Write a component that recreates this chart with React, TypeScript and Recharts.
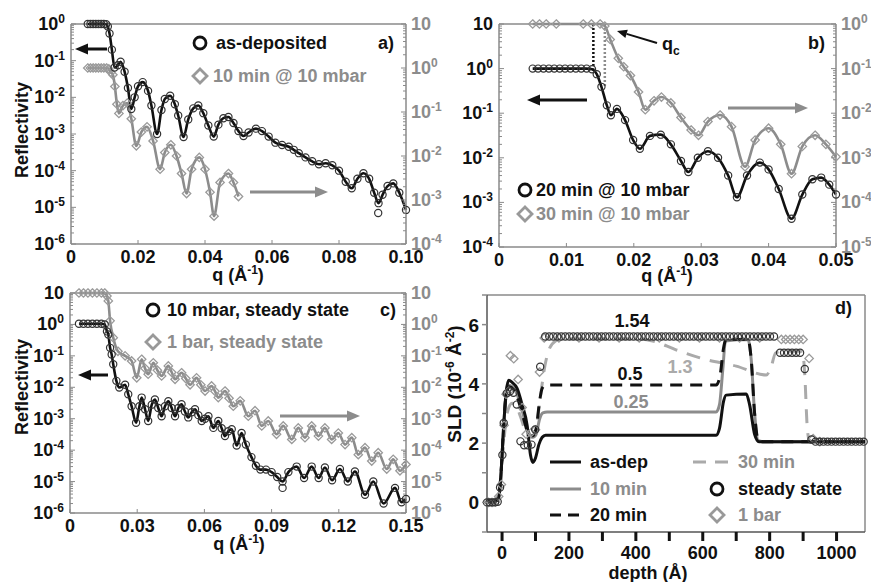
import React from 'react';
import { ComposedChart, Line, XAxis, YAxis, ReferenceLine } from 'recharts';

const FONT = '"Liberation Sans", Arial, Helvetica, sans-serif';
const BLACK = '#111';
const GRAY = '#8c8c8c';
const LIGHT = '#aaaaaa';
const AXIS = '#8a8a8a';

type Pt = [number, number];

// ---- panel a: q (1/A), reflectivity ----
const asDeposited: Pt[] = [
  [0.005, 1], [0.0058, 1], [0.0066, 1], [0.0074, 1], [0.0082, 1], [0.009, 1], [0.0098, 1], [0.0105, 0.98],
  [0.011, 0.85], [0.0115, 0.55], [0.0122, 0.2], [0.013, 0.065], [0.014, 0.075], [0.0148, 0.093], [0.016, 0.05],
  [0.017, 0.018], [0.018, 0.0048], [0.019, 0.01], [0.02, 0.02], [0.0214, 0.026], [0.023, 0.015], [0.024, 0.006],
  [0.0257, 0.001], [0.027, 0.0045], [0.028, 0.009], [0.0296, 0.011], [0.031, 0.0065], [0.032, 0.0032],
  [0.0336, 0.00083], [0.035, 0.0025], [0.0365, 0.005], [0.038, 0.006], [0.0395, 0.0037], [0.041, 0.0017],
  [0.0426, 0.00085], [0.044, 0.0018], [0.0455, 0.0027], [0.047, 0.0029], [0.0485, 0.002], [0.05, 0.0012],
  [0.0515, 0.00088], [0.053, 0.0011], [0.0552, 0.0014], [0.057, 0.0012], [0.059, 0.00085], [0.061, 0.00058],
  [0.063, 0.0005], [0.065, 0.00045], [0.0665, 0.00037], [0.068, 0.0003], [0.07, 0.00023], [0.072, 0.00018],
  [0.074, 0.00015], [0.076, 0.00016], [0.078, 0.00014], [0.08, 0.0001], [0.082, 0.00005], [0.0838, 0.000033],
  [0.0855, 0.00006], [0.0873, 0.000085], [0.089, 0.00006], [0.0905, 0.000025], [0.0918, 0.000013],
  [0.093, 0.000022], [0.0945, 0.000038], [0.0962, 0.000045], [0.098, 0.000025], [0.1, 0.0000085],
];
const asDepositedStray: Pt[] = [[0.0917, 0.000007]];
const tenMin: Pt[] = [
  [0.005, 1], [0.0058, 1], [0.0066, 1], [0.0074, 1], [0.0082, 1], [0.009, 1], [0.0098, 1], [0.0106, 1],
  [0.0113, 0.95], [0.0119, 0.8], [0.0125, 0.7], [0.0131, 0.38], [0.0137, 0.15], [0.0143, 0.093], [0.0155, 0.14],
  [0.0168, 0.16], [0.018, 0.07], [0.0195, 0.017], [0.021, 0.035], [0.0227, 0.046], [0.0245, 0.022],
  [0.0266, 0.005], [0.028, 0.012], [0.0298, 0.018], [0.0315, 0.01], [0.033, 0.004], [0.0345, 0.0014],
  [0.036, 0.005], [0.0383, 0.0093], [0.04, 0.005], [0.0415, 0.0015], [0.0427, 0.00043], [0.0445, 0.0025],
  [0.047, 0.004], [0.0485, 0.0025], [0.05, 0.0012],
];

// ---- panel b ----
const twentyMin: Pt[] = [
  [0.005, 1], [0.0058, 1], [0.0066, 1], [0.0074, 1], [0.0082, 1], [0.009, 1], [0.0098, 1], [0.0106, 1],
  [0.0114, 1], [0.0122, 1], [0.013, 1], [0.0138, 0.97], [0.0145, 0.75], [0.0152, 0.39], [0.016, 0.15],
  [0.0166, 0.09], [0.0175, 0.125], [0.0187, 0.07], [0.0199, 0.025], [0.0209, 0.016], [0.0224, 0.031],
  [0.024, 0.033], [0.0255, 0.02], [0.027, 0.0085], [0.0281, 0.0048], [0.0295, 0.01], [0.031, 0.014],
  [0.0325, 0.01], [0.034, 0.004], [0.0353, 0.0013], [0.0368, 0.004], [0.0387, 0.0078], [0.04, 0.0055],
  [0.0415, 0.002], [0.0434, 0.00043], [0.045, 0.0015], [0.0465, 0.0033], [0.0478, 0.0036], [0.049, 0.0025],
  [0.05, 0.0015],
];
const thirtyMin: Pt[] = [
  [0.005, 1], [0.006, 1], [0.007, 1], [0.0085, 1], [0.0125, 1], [0.0137, 1], [0.015, 1], [0.0157, 0.9],
  [0.0165, 0.45], [0.0177, 0.17], [0.0185, 0.11], [0.0195, 0.07], [0.0207, 0.03], [0.0217, 0.012],
  [0.023, 0.019], [0.0241, 0.023], [0.0255, 0.017], [0.027, 0.008], [0.0285, 0.0042], [0.0296, 0.0032],
  [0.031, 0.0065], [0.0328, 0.0091], [0.0345, 0.005], [0.0365, 0.00063], [0.038, 0.0025], [0.04, 0.0046],
  [0.0418, 0.002], [0.0434, 0.00044], [0.045, 0.0018], [0.0469, 0.0032], [0.0485, 0.002], [0.05, 0.00105],
];

// ---- panel c ----
const steady10mbar: Pt[] = [
  [0.004, 1.05], [0.006, 1.05], [0.008, 1.05], [0.01, 1.05], [0.012, 1.05], [0.014, 1.05], [0.0155, 1.0],
  [0.0165, 0.6], [0.0171, 0.48], [0.0179, 0.18], [0.0186, 0.11], [0.0193, 0.054], [0.0207, 0.016],
  [0.022, 0.0098], [0.0246, 0.012], [0.026, 0.006], [0.0275, 0.0025], [0.0295, 0.00074], [0.031, 0.0025],
  [0.032, 0.0047], [0.0335, 0.002], [0.0349, 0.00085], [0.0365, 0.0028], [0.0379, 0.0041], [0.0394, 0.0022],
  [0.0409, 0.0012], [0.0424, 0.0025], [0.0439, 0.0036], [0.0454, 0.0022], [0.0469, 0.0012], [0.0484, 0.0022],
  [0.0498, 0.0029], [0.0513, 0.0017], [0.0528, 0.0011], [0.0543, 0.0016], [0.0558, 0.002], [0.0573, 0.0013],
  [0.0588, 0.00085], [0.0603, 0.001], [0.0618, 0.0012], [0.064, 0.00051], [0.0662, 0.00085], [0.0677, 0.0005],
  [0.0692, 0.00028], [0.0707, 0.0004], [0.0722, 0.00046], [0.0744, 0.00014], [0.0766, 0.00035],
  [0.0785, 0.00015], [0.081, 0.00006], [0.083, 0.000032], [0.085, 0.000024], [0.0875, 0.000024],
  [0.09, 0.00002], [0.0925, 0.000014], [0.0949, 0.00001], [0.0975, 0.00002], [0.1012, 0.00003],
  [0.1045, 0.000013], [0.1079, 0.00003], [0.111, 0.000013], [0.1138, 0.000028], [0.117, 0.000011],
  [0.1205, 0.000025], [0.124, 0.00001], [0.1272, 0.000021], [0.1317, 0.0000038], [0.1354, 0.00001],
  [0.14, 0.000002], [0.1451, 0.0000063], [0.148, 0.0000022], [0.15, 0.0000028],
];
const steady10mbarStray: Pt[] = [[0.0949, 0.0000063]];
const steady1bar: Pt[] = [
  [0.004, 10], [0.006, 10], [0.008, 10], [0.01, 10], [0.012, 10], [0.014, 10], [0.0155, 10], [0.0165, 8],
  [0.0171, 5.6], [0.0179, 1.3], [0.0193, 0.38], [0.0214, 0.14], [0.0246, 0.1], [0.0275, 0.069], [0.0298, 0.02],
  [0.032, 0.078], [0.0335, 0.04], [0.0349, 0.026], [0.0372, 0.06], [0.039, 0.035], [0.0409, 0.023],
  [0.0439, 0.048], [0.0454, 0.03], [0.0469, 0.018], [0.0498, 0.029], [0.0517, 0.019], [0.0536, 0.012],
  [0.0565, 0.02], [0.0584, 0.012], [0.0603, 0.0076], [0.0632, 0.011], [0.0647, 0.0075], [0.0662, 0.0047],
  [0.0692, 0.0076], [0.071, 0.0045], [0.0729, 0.0025], [0.076, 0.0037], [0.0796, 0.0012], [0.0826, 0.0018],
  [0.0856, 0.00059], [0.0885, 0.00085], [0.0922, 0.00032], [0.0952, 0.00059], [0.099, 0.00022],
  [0.1019, 0.00051], [0.1049, 0.00025], [0.1079, 0.00059], [0.1109, 0.00028], [0.1138, 0.00051],
  [0.1168, 0.00022], [0.1198, 0.00035], [0.1228, 0.00015], [0.1258, 0.00025], [0.1287, 0.000072],
  [0.1317, 0.00012], [0.1347, 0.000045], [0.1376, 0.000083], [0.1414, 0.000025], [0.1443, 0.000051],
  [0.1473, 0.000022], [0.15, 0.000035],
];

// ---- panel d: depth (A), SLD (1e-6 A^-2) ----
const sldAsDep: Pt[] = [
  [-45, 0.05], [-20, 0.05], [-10, 0.15], [-3, 1.0], [5, 2.6], [12, 3.7], [20, 4.12], [30, 4.05], [45, 3.85],
  [60, 3.3], [75, 2.6], [85, 1.6], [92, 1.35], [100, 1.5], [110, 1.95], [120, 2.2], [130, 2.27], [640, 2.27],
  [650, 2.5], [662, 3.4], [670, 3.62], [730, 3.66], [740, 3.3], [755, 2.3], [768, 2.05], [800, 2.05], [1085, 2.05],
];
const sld10min: Pt[] = [
  [-45, 0.05], [-20, 0.05], [-10, 0.2], [-3, 1.0], [5, 2.6], [12, 3.6], [22, 3.95], [35, 3.85], [50, 3.5],
  [65, 2.9], [80, 2.35], [92, 2.2], [102, 2.3], [112, 2.8], [122, 3.02], [135, 3.05], [640, 3.05], [650, 3.3],
  [660, 4.5], [668, 5.45], [735, 5.5], [745, 4.8], [755, 3.0], [766, 2.08], [780, 2.05], [1085, 2.05],
];
const sld20min: Pt[] = [
  [-45, 0.05], [-20, 0.05], [-10, 0.2], [-3, 1.0], [5, 2.6], [12, 3.6], [22, 3.9], [35, 3.8], [50, 3.4],
  [65, 2.8], [80, 2.3], [92, 2.25], [102, 2.5], [112, 3.4], [120, 3.85], [130, 3.96], [640, 3.96], [652, 4.3],
  [662, 5.2], [670, 5.5], [735, 5.5], [745, 4.8], [755, 3.0], [766, 2.1], [780, 2.05], [1085, 2.05],
];
const sld30min: Pt[] = [
  [-45, 0.05], [-20, 0.1], [-5, 0.6], [5, 2.0], [15, 3.0], [30, 3.35], [40, 3.3], [55, 2.9], [70, 2.4],
  [85, 2.2], [100, 2.4], [115, 3.6], [128, 4.6], [140, 5.15], [160, 5.45], [180, 5.52], [400, 5.52],
  [450, 5.45], [520, 5.15], [600, 4.85], [700, 4.6], [790, 4.3], [805, 4.6], [818, 5.05], [840, 5.1],
  [898, 5.1], [905, 4.3], [912, 2.6], [918, 2.1], [930, 2.05], [1085, 2.05],
];
const sldSteady: Pt[] = [
  [-45, 0], [-37, 0], [-29, 0], [-21, 0], [-13, 0.02], [-6, 0.5], [1, 1.6], [5, 2.68], [14, 3.68], [24, 3.75],
  [34, 3.7], [44, 3.3], [55, 2.06], [66, 1.93], [77, 1.93], [88, 1.95], [99, 2.46], [114, 4.58], [129, 5.6],
  [141, 5.6], [153, 5.6], [165, 5.6], [177, 5.6], [189, 5.6], [201, 5.6], [213, 5.6], [225, 5.6], [237, 5.6],
  [249, 5.6], [261, 5.6], [273, 5.6], [285, 5.6], [297, 5.6], [309, 5.6], [321, 5.6], [333, 5.6], [345, 5.6],
  [357, 5.6], [369, 5.6], [381, 5.6], [393, 5.6], [405, 5.6], [417, 5.6], [429, 5.6], [441, 5.6], [453, 5.6],
  [465, 5.6], [477, 5.6], [489, 5.6], [501, 5.6], [513, 5.6], [525, 5.6], [537, 5.6], [549, 5.6], [561, 5.6],
  [573, 5.6], [585, 5.6], [597, 5.6], [609, 5.6], [621, 5.6], [633, 5.6], [645, 5.6], [657, 5.6], [669, 5.6],
  [681, 5.6], [693, 5.6], [705, 5.6], [717, 5.6], [729, 5.6], [741, 5.6], [753, 5.6], [765, 5.6], [777, 5.6],
  [789, 5.6], [801, 5.6], [813, 5.6], [831, 5.05], [843, 5.05], [855, 5.05], [867, 5.05], [879, 5.05],
  [891, 5.05], [905, 4.5], [925, 2.12], [937, 2.05], [949, 2.05], [961, 2.05], [973, 2.05], [985, 2.05],
  [997, 2.05], [1009, 2.05], [1021, 2.05], [1033, 2.05], [1045, 2.05], [1057, 2.05], [1069, 2.05], [1081, 2.05],
];
const sld1bar: Pt[] = [
  [-40, 0], [-30, 0], [-20, 0.02], [-10, 0.2], [-2, 0.6], [6, 2.6], [12, 3.65], [20, 3.75], [25, 4.95],
  [35, 4.85], [48, 4.15], [60, 3.2], [72, 2.3], [86, 2.35], [100, 2.45], [112, 4.4], [126, 5.55], [170, 5.55],
  [230, 5.55], [290, 5.55], [350, 5.55], [410, 5.55], [470, 5.55], [530, 5.55], [590, 5.55], [650, 5.55],
  [710, 5.55], [770, 5.55], [835, 5.5], [848, 5.5], [861, 5.5], [874, 5.5], [887, 5.5], [900, 5.5],
  [918, 4.86], [930, 2.15], [950, 2.05],
];

// tick values
const aLeftDecades = [1e-6, 1e-5, 1e-4, 1e-3, 1e-2, 1e-1, 1];
const aRightDecades = [1e-4, 1e-3, 1e-2, 1e-1, 1, 10];
const bLeftDecades = [1e-4, 1e-3, 1e-2, 1e-1, 1, 10];
const bRightDecades = [1e-5, 1e-4, 1e-3, 1e-2, 1e-1, 1];
const cDecades = [1e-6, 1e-5, 1e-4, 1e-3, 1e-2, 1e-1, 1, 10];
const aQTicks = [0, 0.02, 0.04, 0.06, 0.08, 0.1];
const bQTicks = [0, 0.01, 0.02, 0.03, 0.04, 0.05];
const cQTicks = [0, 0.03, 0.06, 0.09, 0.12, 0.15];
const depthTicks = [0, 100, 200, 300, 400, 500, 600, 700, 800, 900, 1000];
const sldTicks = [-1, 0, 1, 2, 3, 4, 5, 6, 7];

const withMinor = (decades: number[]) => {
  const out: number[] = [];
  decades.forEach((d, i) => {
    out.push(d);
    if (i < decades.length - 1) for (let m = 2; m < 10; m++) out.push(d * m);
  });
  return out;
};

const rows = (pts: Pt[]) => pts.map(([x, y]) => ({ x, y }));

const txt = { fontFamily: FONT, fontWeight: 700 as const };

const LogTick = (props: any) => {
  const { x, y, payload, side, color } = props;
  const lg = Math.log10(payload.value);
  const e = Math.round(lg);
  const major = Math.abs(lg - e) < 1e-6;
  const dir = side === 'left' ? 1 : -1;
  return (
    <g>
      <line x1={x} y1={y} x2={x + dir * (major ? 5 : 3)} y2={y} stroke={AXIS} strokeWidth={1} />
      {major && (
        <text x={side === 'left' ? x - 6 : x + 5} y={y + 6} textAnchor={side === 'left' ? 'end' : 'start'}
          fill={color} fontSize={18} {...txt}>
          <tspan>10</tspan>
          {e !== 1 && <tspan dy={-7} fontSize={12}>{e}</tspan>}
        </text>
      )}
    </g>
  );
};

const QTick = (props: any) => {
  const { x, y, payload } = props;
  const v = payload.value;
  return (
    <g>
      <line x1={x} y1={y} x2={x} y2={y - 4} stroke={AXIS} />
      <text x={x} y={y + 19} textAnchor="middle" fill={BLACK} fontSize={18} {...txt}>
        {v === 0 ? '0' : v.toFixed(2)}
      </text>
    </g>
  );
};

const DepthTick = (props: any) => {
  const { x, y, payload } = props;
  const v = payload.value;
  return (
    <g>
      <line x1={x} y1={y} x2={x} y2={y + 9} stroke={BLACK} strokeWidth={3} />
      {v % 200 === 0 && (
        <text x={x} y={y + 27} textAnchor="middle" fill={BLACK} fontSize={18} {...txt}>{v}</text>
      )}
    </g>
  );
};

const SldTick = (props: any) => {
  const { x, y, payload } = props;
  const v = payload.value;
  return (
    <g>
      <line x1={x - 5} y1={y} x2={x} y2={y} stroke={AXIS} strokeWidth={1.5} />
      {v >= 0 && v <= 6 && v % 2 === 0 && (
        <text x={x - 8} y={y + 7} textAnchor="end" fill={BLACK} fontSize={19} {...txt}>{v}</text>
      )}
    </g>
  );
};

const circleDot = (p: any) => (
  <circle key={p.index} cx={p.cx} cy={p.cy} r={3.6} fill="none" stroke="#333" strokeWidth={1.2} />
);
const diamondDot = (p: any) => {
  const s = 4.2;
  return (
    <path key={p.index} d={`M${p.cx},${p.cy - s}L${p.cx + s},${p.cy}L${p.cx},${p.cy + s}L${p.cx - s},${p.cy}Z`}
      fill="none" stroke="#9a9a9a" strokeWidth={1.3} />
  );
};

interface Series {
  data: Pt[];
  axis: 'left' | 'right';
  color: string;
  marker: 'circle' | 'diamond';
  noLine?: boolean;
}

interface ReflProps {
  box: [number, number, number, number];
  margin: { top: number; right: number; bottom: number; left: number };
  leftWidth: number;
  xTicks: number[];
  leftDecades: number[];
  rightDecades: number[];
  series: Series[];
  children?: React.ReactNode;
}

const ReflectivityPanel: React.FC<ReflProps> = ({ box, margin, leftWidth, xTicks, leftDecades, rightDecades, series, children }) => {
  const leftDomain = [leftDecades[0], leftDecades[leftDecades.length - 1]];
  const rightDomain = [rightDecades[0], rightDecades[rightDecades.length - 1]];
  return (
    <div style={{ position: 'absolute', left: box[0], top: box[1] }}>
      <ComposedChart width={box[2]} height={box[3]} margin={margin}>
        <XAxis dataKey="x" type="number" domain={[xTicks[0], xTicks[xTicks.length - 1]]} ticks={xTicks}
          interval={0} height={25} tickSize={0} tickMargin={0} tickLine={false}
          axisLine={{ stroke: AXIS, strokeWidth: 1.5 }} tick={<QTick />} />
        <YAxis yAxisId="left" orientation="left" scale="log" type="number" domain={leftDomain}
          ticks={withMinor(leftDecades)} interval={0} width={leftWidth} tickSize={0} tickMargin={0}
          tickLine={false} axisLine={{ stroke: AXIS, strokeWidth: 1.5 }} tick={<LogTick side="left" color={BLACK} />} />
        <YAxis yAxisId="right" orientation="right" scale="log" type="number" domain={rightDomain}
          ticks={withMinor(rightDecades)} interval={0} width={35} tickSize={0} tickMargin={0}
          tickLine={false} axisLine={{ stroke: AXIS, strokeWidth: 1.5 }} tick={<LogTick side="right" color={GRAY} />} />
        <ReferenceLine yAxisId="left" y={leftDomain[1]} stroke={AXIS} strokeWidth={1.5} />
        {children}
        {series.map((s, i) => (
          <Line key={i} data={rows(s.data)} dataKey="y" yAxisId={s.axis} type="monotone"
            stroke={s.noLine ? 'none' : s.color} strokeWidth={2.6}
            dot={s.marker === 'circle' ? circleDot : diamondDot} isAnimationActive={false} />
        ))}
      </ComposedChart>
    </div>
  );
};

const Arrow: React.FC<{ x1: number; y1: number; x2: number; y2: number; color: string; w?: number; head?: number }> = ({ x1, y1, x2, y2, color, w = 3, head = 13 }) => {
  const a = Math.atan2(y2 - y1, x2 - x1);
  const bx = x2 - head * Math.cos(a);
  const by = y2 - head * Math.sin(a);
  const hw = head * 0.42;
  const px = -Math.sin(a) * hw;
  const py = Math.cos(a) * hw;
  return (
    <g>
      <line x1={x1} y1={y1} x2={bx} y2={by} stroke={color} strokeWidth={w} />
      <polygon points={`${x2},${y2} ${bx + px},${by + py} ${bx - px},${by - py}`} fill={color} />
    </g>
  );
};

const LegendCircle = ({ x, y }: { x: number; y: number }) => (
  <circle cx={x} cy={y} r={6} fill="none" stroke={BLACK} strokeWidth={2.8} />
);
const LegendDiamond = ({ x, y }: { x: number; y: number }) => (
  <path d={`M${x},${y - 7}L${x + 7},${y}L${x},${y + 7}L${x - 7},${y}Z`} fill="none" stroke="#999" strokeWidth={2.8} />
);

const QLabel = ({ x, y }: { x: number; y: number }) => (
  <text x={x} y={y} textAnchor="middle" fontSize={18} fill={BLACK} {...txt}>
    q (Å<tspan dy={-7} fontSize={12}>-1</tspan><tspan dy={7}>)</tspan>
  </text>
);

const Overlay = () => (
  <svg width={871} height={582} style={{ position: 'absolute', left: 0, top: 0, pointerEvents: 'none' }}>
    {/* panel a */}
    <text transform="translate(28,130) rotate(-90)" textAnchor="middle" fontSize={18} fill={BLACK} {...txt}>Reflectivity</text>
    <QLabel x={238} y={281} />
    <LegendCircle x={200} y={43} />
    <text x={216} y={49} fontSize={18} fill={BLACK} {...txt}>as-deposited</text>
    <LegendDiamond x={200} y={76} />
    <text x={213} y={82} fontSize={18} fill={GRAY} {...txt}>10 min @ 10 mbar</text>
    <text x={378} y={49} fontSize={18} fill={BLACK} {...txt}>a)</text>
    <Arrow x1={107} y1={49} x2={75} y2={49} color={BLACK} />
    <Arrow x1={250} y1={192} x2={328} y2={192} color={GRAY} />

    {/* panel b */}
    <QLabel x={667} y={282} />
    <LegendCircle x={525} y={190} />
    <text x={536} y={196} fontSize={18} fill={BLACK} {...txt}>20 min @ 10 mbar</text>
    <LegendDiamond x={525} y={214} />
    <text x={536} y={220} fontSize={18} fill={GRAY} {...txt}>30 min @ 10 mbar</text>
    <text x={808} y={49} fontSize={18} fill={BLACK} {...txt}>b)</text>
    <Arrow x1={587} y1={100} x2={527} y2={100} color={BLACK} />
    <Arrow x1={728} y1={108} x2={808} y2={108} color={GRAY} />
    <Arrow x1={657} y1={43} x2={617} y2={31} color={BLACK} w={2} head={10} />
    <text x={662} y={50} fontSize={18} fill={BLACK} {...txt}>q<tspan dy={5} fontSize={12}>c</tspan></text>

    {/* panel c */}
    <text transform="translate(28,387) rotate(-90)" textAnchor="middle" fontSize={18} fill={BLACK} {...txt}>Reflectivity</text>
    <QLabel x={239} y={550} />
    <LegendCircle x={153} y={310} />
    <text x={167} y={316} fontSize={18} fill={BLACK} {...txt}>10 mbar, steady state</text>
    <LegendDiamond x={153} y={342} />
    <text x={167} y={348} fontSize={18} fill={GRAY} {...txt}>1 bar, steady state</text>
    <text x={380} y={316} fontSize={18} fill={BLACK} {...txt}>c)</text>
    <Arrow x1={108} y1={375} x2={78} y2={375} color={BLACK} />
    <Arrow x1={280} y1={416} x2={360} y2={416} color={GRAY} />

    {/* panel d */}
    <text transform="translate(461,384) rotate(-90)" textAnchor="middle" fontSize={19} fill={BLACK} {...txt}>
      SLD (10<tspan dy={-7} fontSize={12}>-6</tspan><tspan dy={7}> Å</tspan><tspan dy={-7} fontSize={12}>-2</tspan><tspan dy={7}>)</tspan>
    </text>
    <text x={648} y={579} textAnchor="middle" fontSize={18} fill={BLACK} {...txt}>depth (Å)</text>
    <text x={835} y={314} fontSize={18} fill={BLACK} {...txt}>d)</text>
    <text x={632} y={327} textAnchor="middle" fontSize={18} fill={BLACK} {...txt}>1.54</text>
    <text x={630} y={380} textAnchor="middle" fontSize={18} fill={BLACK} {...txt}>0.5</text>
    <text x={631} y={408} textAnchor="middle" fontSize={18} fill={GRAY} {...txt}>0.25</text>
    <text x={680} y={373} textAnchor="middle" fontSize={18} fill={LIGHT} {...txt}>1.3</text>
    <line x1={550} y1={462} x2={581} y2={462} stroke={BLACK} strokeWidth={3} />
    <text x={590} y={468} fontSize={18} fill={BLACK} {...txt}>as-dep</text>
    <line x1={550} y1={489} x2={581} y2={489} stroke={GRAY} strokeWidth={3} />
    <text x={590} y={495} fontSize={18} fill={GRAY} {...txt}>10 min</text>
    <line x1={550} y1={515} x2={581} y2={515} stroke={BLACK} strokeWidth={3} strokeDasharray="11 7" />
    <text x={590} y={521} fontSize={18} fill={BLACK} {...txt}>20 min</text>
    <line x1={693} y1={462} x2={732} y2={462} stroke={LIGHT} strokeWidth={3} strokeDasharray="13 9" />
    <text x={738} y={468} fontSize={18} fill={GRAY} {...txt}>30 min</text>
    <LegendCircle x={717} y={489} />
    <text x={738} y={495} fontSize={18} fill={BLACK} {...txt}>steady state</text>
    <LegendDiamond x={717} y={515} />
    <text x={738} y={521} fontSize={18} fill={GRAY} {...txt}>1 bar</text>
  </svg>
);

const SldPanel = () => (
  <div style={{ position: 'absolute', left: 435, top: 285 }}>
    <ComposedChart width={436} height={297} margin={{ top: 10, right: 6, left: 12, bottom: 20 }}>
      <XAxis dataKey="x" type="number" domain={[-45, 1085]} ticks={depthTicks} interval={0} height={30}
        tickSize={0} tickMargin={0} tickLine={false} axisLine={{ stroke: '#555', strokeWidth: 1.5 }} tick={<DepthTick />} />
      <YAxis type="number" domain={[-1, 7]} ticks={sldTicks} interval={0} width={40} tickSize={0} tickMargin={0}
        tickLine={false} axisLine={{ stroke: '#555', strokeWidth: 1.5 }} tick={<SldTick />} />
      <ReferenceLine y={7} stroke={AXIS} strokeWidth={1.5} />
      <ReferenceLine x={1085} stroke={AXIS} strokeWidth={1.5} />
      <Line data={rows(sld30min)} dataKey="y" type="monotone" stroke={LIGHT} strokeWidth={3} strokeDasharray="14 10" dot={false} isAnimationActive={false} />
      <Line data={rows(sld10min)} dataKey="y" type="monotone" stroke={GRAY} strokeWidth={3} dot={false} isAnimationActive={false} />
      <Line data={rows(sld20min)} dataKey="y" type="monotone" stroke={BLACK} strokeWidth={3} strokeDasharray="12 8" dot={false} isAnimationActive={false} />
      <Line data={rows(sldAsDep)} dataKey="y" type="monotone" stroke={BLACK} strokeWidth={3} dot={false} isAnimationActive={false} />
      <Line data={rows(sld1bar)} dataKey="y" stroke="none" dot={diamondDot} isAnimationActive={false} />
      <Line data={rows(sldSteady)} dataKey="y" stroke="none" dot={circleDot} isAnimationActive={false} />
    </ComposedChart>
  </div>
);

export default function App() {
  return (
    <div style={{ position: 'absolute', left: 0, top: 0, width: 871, height: 582, background: '#fff', overflow: 'hidden' }}>
      <ReflectivityPanel box={[0, 0, 445, 285]} margin={{ top: 24, right: 4, left: 11, bottom: 16 }} leftWidth={60}
        xTicks={aQTicks} leftDecades={aLeftDecades} rightDecades={aRightDecades}
        series={[
          { data: tenMin, axis: 'right', color: GRAY, marker: 'diamond' },
          { data: asDeposited, axis: 'left', color: BLACK, marker: 'circle' },
          { data: asDepositedStray, axis: 'left', color: BLACK, marker: 'circle', noLine: true },
        ]} />
      <ReflectivityPanel box={[440, 0, 431, 285]} margin={{ top: 24, right: 0, left: 9, bottom: 13 }} leftWidth={50}
        xTicks={bQTicks} leftDecades={bLeftDecades} rightDecades={bRightDecades}
        series={[
          { data: thirtyMin, axis: 'right', color: GRAY, marker: 'diamond' },
          { data: twentyMin, axis: 'left', color: BLACK, marker: 'circle' },
        ]}>
        <ReferenceLine yAxisId="left" segment={[{ x: 0.014, y: 10 }, { x: 0.014, y: 1 }]} stroke={BLACK} strokeWidth={2.5} strokeDasharray="2 2" />
        <ReferenceLine yAxisId="left" segment={[{ x: 0.0157, y: 10 }, { x: 0.0157, y: 0.38 }]} stroke={GRAY} strokeWidth={2.5} strokeDasharray="2 2" />
      </ReflectivityPanel>
      <ReflectivityPanel box={[0, 275, 445, 307]} margin={{ top: 18, right: 4, left: 10, bottom: 44 }} leftWidth={60}
        xTicks={cQTicks} leftDecades={cDecades} rightDecades={cDecades}
        series={[
          { data: steady1bar, axis: 'right', color: GRAY, marker: 'diamond' },
          { data: steady10mbar, axis: 'left', color: BLACK, marker: 'circle' },
          { data: steady10mbarStray, axis: 'left', color: BLACK, marker: 'circle', noLine: true },
        ]} />
      <SldPanel />
      <Overlay />
    </div>
  );
}
